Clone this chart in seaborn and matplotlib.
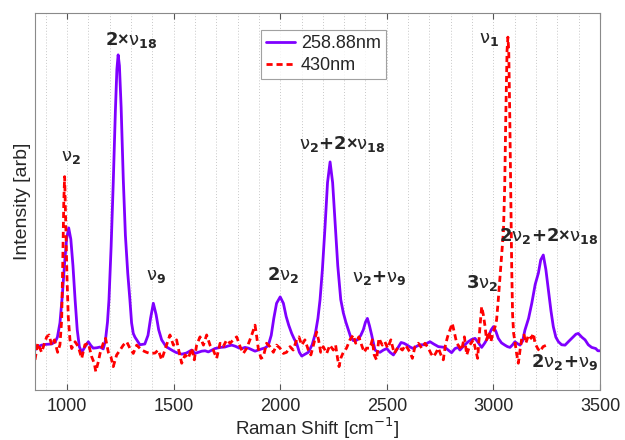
import numpy as np
import pandas as pd
import matplotlib
matplotlib.use("Agg")
import matplotlib.pyplot as plt
import seaborn as sns
from matplotlib.ticker import MultipleLocator

# ---------------- data ----------------
uv_shift = [850, 865, 881, 900, 928, 945, 955, 967, 978, 988, 998, 1008, 1018, 1028, 1038, 1048,
            1058, 1069, 1085, 1100, 1112, 1123, 1140, 1155, 1170, 1180, 1190, 1197, 1207, 1217,
            1227, 1234, 1240, 1246, 1254, 1264, 1274, 1285, 1295, 1303, 1311, 1319, 1342, 1365,
            1380, 1392, 1405, 1418, 1430, 1444, 1465, 1491, 1510, 1538, 1560, 1585, 1600, 1616,
            1632, 1648, 1663, 1680, 1694, 1720, 1741, 1757, 1773, 1790, 1805, 1819, 1835, 1851,
            1867, 1882, 1897, 1913, 1930, 1944, 1958, 1970, 1983, 2000, 2015, 2028, 2040, 2054,
            2066, 2077, 2090, 2101, 2116, 2132, 2150, 2165, 2177, 2187, 2198, 2210, 2222, 2234,
            2246, 2258, 2270, 2284, 2296, 2308, 2320, 2331, 2343, 2355, 2366, 2378, 2390, 2400,
            2409, 2419, 2429, 2437, 2445, 2456, 2468, 2484, 2500, 2515, 2531, 2550, 2567, 2580,
            2593, 2609, 2624, 2640, 2656, 2668, 2679, 2692, 2703, 2720, 2742, 2757, 2773, 2788,
            2804, 2820, 2835, 2843, 2862, 2882, 2898, 2914, 2930, 2945, 2960, 2976, 2990, 3000,
            3012, 3023, 3038, 3054, 3066, 3078, 3090, 3101, 3113, 3125, 3137, 3148, 3165, 3180,
            3196, 3211, 3222, 3234, 3246, 3258, 3270, 3281, 3293, 3305, 3320, 3336, 3355, 3375,
            3387, 3398, 3415, 3430, 3445, 3461, 3480, 3490, 3500]
uv_intensity = [.106, .115, .119, .121, .122, .128, .14, .178, .25, .33, .40, .43, .40, .33, .24, .16,
                .115, .10, .115, .128, .118, .111, .112, .114, .109, .13, .18, .24, .38, .55,
                .74, .85, .889, .86, .75, .56, .41, .31, .24, .178, .15, .14, .12, .122,
                .145, .19, .23, .20, .16, .133, .115, .106, .10, .095, .098, .106, .097, .10,
                .103, .104, .101, .106, .11, .113, .114, .117, .119, .116, .112, .11, .113, .111,
                .107, .103, .106, .109, .112, .118, .145, .19, .23, .247, .23, .195, .172, .15,
                .135, .124, .10, .09, .095, .10, .12, .15, .19, .24, .32, .43, .55, .605,
                .55, .44, .33, .24, .205, .18, .159, .14, .131, .131, .135, .145, .16, .18,
                .19, .17, .146, .125, .106, .102, .10, .106, .11, .10, .093, .11, .126, .124,
                .12, .114, .11, .116, .12, .12, .12, .125, .128, .122, .115, .114, .113, .106,
                .099, .11, .113, .106, .118, .128, .134, .137, .125, .113, .125, .141, .16, .168,
                .155, .137, .125, .119, .115, .113, .12, .128, .123, .119, .13, .159, .19, .23,
                .28, .31, .345, .358, .32, .265, .21, .168, .14, .128, .12, .119, .13, .141,
                .148, .15, .14, .133, .12, .113, .11, .104, .104]

vis_shift = [850, 863, 881, 895, 905, 916, 928, 941, 956, 967, 975, 980, 985, 989, 994, 1000, 1006,
             1014, 1022, 1038, 1053, 1069, 1084, 1100, 1116, 1128, 1135, 1147, 1155, 1170, 1181,
             1194, 1206, 1217, 1233, 1249, 1264, 1280, 1295, 1311, 1327, 1350, 1373, 1389, 1413,
             1428, 1444, 1459, 1475, 1483, 1499, 1514, 1522, 1538, 1554, 1569, 1585, 1597, 1608,
             1624, 1640, 1655, 1671, 1686, 1702, 1718, 1733, 1749, 1765, 1780, 1796, 1812, 1827,
             1843, 1858, 1869, 1882, 1890, 1897, 1910, 1921, 1936, 1952, 1968, 1983, 1999, 2015,
             2030, 2046, 2061, 2077, 2088, 2101, 2116, 2132, 2144, 2160, 2171, 2180, 2190, 2202,
             2218, 2233, 2249, 2260, 2269, 2276, 2284, 2296, 2311, 2327, 2343, 2354, 2369, 2382,
             2394, 2405, 2421, 2432, 2441, 2452, 2463, 2479, 2491, 2504, 2519, 2535, 2554, 2573,
             2588, 2609, 2620, 2632, 2648, 2664, 2679, 2695, 2707, 2718, 2729, 2742, 2754, 2765,
             2775, 2785, 2796, 2807, 2818, 2828, 2840, 2851, 2864, 2875, 2890, 2906, 2917, 2926,
             2937, 2945, 2953, 2961, 2968, 2979, 2988, 3000, 3008, 3015, 3023, 3031, 3039, 3047,
             3053, 3058, 3064, 3068, 3072, 3077, 3082, 3086, 3090, 3095, 3101, 3108, 3117, 3125,
             3133, 3144, 3152, 3165, 3177, 3188, 3195, 3208, 3218, 3233, 3249]
vis_intensity = [.08, .124, .10, .125, .141, .146, .119, .133, .10, .12, .186, .33, .50, .566, .45, .30, .194,
                 .133, .11, .128, .115, .084, .12, .124, .088, .071, .049, .075, .097, .124, .137,
                 .10, .088, .062, .093, .106, .119, .128, .111, .097, .119, .106, .10, .097, .098,
                 .106, .08, .106, .133, .146, .119, .133, .111, .071, .093, .084, .111, .080, .119,
                 .141, .119, .146, .119, .106, .084, .124, .115, .133, .124, .133, .141, .115, .097,
                 .111, .133, .15, .172, .141, .111, .084, .088, .124, .115, .10, .119, .111, .097,
                 .10, .115, .106, .133, .141, .119, .133, .106, .093, .128, .154, .133, .10, .115,
                 .097, .119, .106, .119, .084, .062, .084, .10, .111, .133, .146, .124, .141, .119,
                 .10, .111, .111, .133, .093, .08, .137, .119, .128, .111, .133, .097, .115, .106,
                 .119, .10, .084, .115, .124, .111, .124, .111, .097, .088, .097, .111, .093, .08,
                 .119, .141, .159, .177, .15, .124, .115, .106, .141, .093, .12, .133, .106, .084,
                 .168, .221, .199, .168, .133, .155, .128, .155, .168, .186, .24, .30, .36, .42,
                 .54, .72, .90, .936, .90, .72, .50, .32, .20, .15, .128, .10, .071, .106,
                 .137, .146, .124, .146, .137, .15, .124, .11, .102, .115, .119]

series_names = ["258.88nm", "430nm"]
x_ticks = [1000, 1500, 2000, 2500, 3000, 3500]

peak_labels = [r"$\mathrm{\nu}_{\mathbf{2}}$",
               r"$\mathbf{2}$×$\mathrm{\nu}_{\mathbf{18}}$",
               r"$\mathrm{\nu}_{\mathbf{9}}$",
               r"$\mathbf{2}\mathrm{\nu}_{\mathbf{2}}$",
               r"$\mathrm{\nu}_{\mathbf{2}}\mathbf{+2}$×$\mathrm{\nu}_{\mathbf{18}}$",
               r"$\mathrm{\nu}_{\mathbf{2}}\mathbf{+}\mathrm{\nu}_{\mathbf{9}}$",
               r"$\mathbf{3}\mathrm{\nu}_{\mathbf{2}}$",
               r"$\mathrm{\nu}_{\mathbf{1}}$",
               r"$\mathbf{2}\mathrm{\nu}_{\mathbf{2}}\mathbf{+2}$×$\mathrm{\nu}_{\mathbf{18}}$",
               r"$\mathbf{2}\mathrm{\nu}_{\mathbf{2}}\mathbf{+}\mathrm{\nu}_{\mathbf{9}}$"]
label_x = [1019, 1300, 1417, 2013, 2290, 2463, 2947, 2980, 3261, 3336]
label_y = [0.618, 0.928, 0.30, 0.305, 0.652, 0.297, 0.284, 0.93, 0.408, 0.074]

# ---------------- plot ----------------
sns.set_style("white")
plt.rcParams["font.family"] = ["Liberation Sans", "DejaVu Sans"]
plt.rcParams["mathtext.fontset"] = "dejavusans"

df_uv = pd.DataFrame({"shift": uv_shift, "intensity": uv_intensity})
df_vis = pd.DataFrame({"shift": vis_shift, "intensity": vis_intensity})

fig = plt.figure(figsize=(6.25, 4.4), dpi=100)
ax = fig.add_axes([35 / 625, 1 - 390 / 440, 565 / 625, 377 / 440])

sns.lineplot(data=df_uv, x="shift", y="intensity", ax=ax, color="#7F00FF", linewidth=2.0,
             label=series_names[0], errorbar=None)
sns.lineplot(data=df_vis, x="shift", y="intensity", ax=ax, color="#FF0000", linewidth=2.0,
             linestyle=(0, (2.2, 1.4)), label=series_names[1], errorbar=None)

ax.set_xlim(850, 3500)
ax.set_ylim(0, 1)
ax.set_xticks(x_ticks)
ax.set_xticklabels([str(t) for t in x_ticks], fontsize=13)
ax.xaxis.set_minor_locator(MultipleLocator(100))
ax.set_yticks([])
ax.grid(True, axis="x", which="both", color="#c8c8c8", linestyle=(0, (1, 2)), linewidth=0.7)
ax.tick_params(axis="x", which="major", direction="in", length=4, top=True, bottom=True,
               color="#555555", pad=6)
ax.tick_params(axis="x", which="minor", length=0)
for s in ax.spines.values():
    s.set_color("#8a8a8a")
    s.set_linewidth(0.8)

ax.set_xlabel(r"Raman Shift [cm$^{-1}$]", fontsize=13.5, labelpad=0)
ax.set_ylabel("Intensity [arb]", fontsize=14, labelpad=3)

for t, lx, ly in zip(peak_labels, label_x, label_y):
    ax.text(lx, ly, t, fontsize=13, ha="center", va="center", fontweight="bold")

leg = ax.legend(loc="upper left", bbox_to_anchor=((261 - 35) / 565, 1 - (30 - 13) / 377),
                fontsize=13, frameon=True, fancybox=False, borderpad=0.3, handlelength=1.6,
                handletextpad=0.3, labelspacing=0.25, borderaxespad=0)
leg.get_frame().set_edgecolor("#8a8a8a")
leg.get_frame().set_linewidth(0.8)

fig.savefig("out.png", dpi=100)
